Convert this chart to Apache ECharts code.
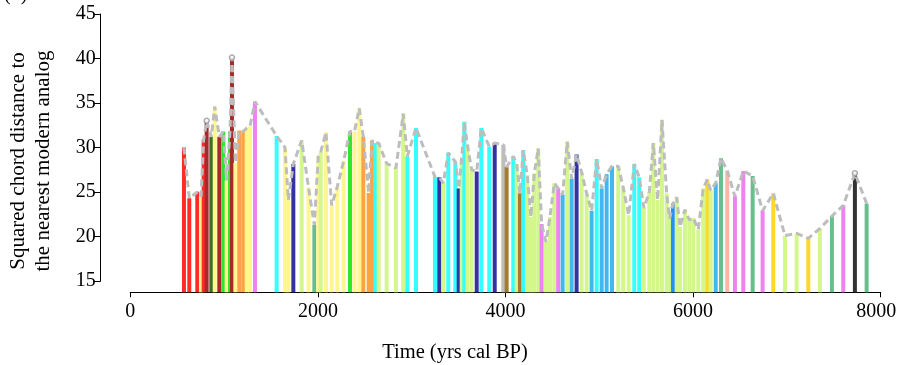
<!DOCTYPE html>
<html>
<head>
<meta charset="utf-8">
<script src="https://cdn.jsdelivr.net/npm/echarts@6/dist/echarts.min.js"></script>
<style>
html,body{margin:0;padding:0;background:#fff;}
#c{width:898px;height:365px;}
</style>
</head>
<body>
<div id="c"></div>
<script>
// ---- data ----
const years = [572,629,714,754,782,814,864,900,949,991,1027,1063,1084,1120,1162,1205,1241,1276,1329,1560,1649,1685,1738,1827,1900,1962,2004,2030,2086,2147,2207,2275,2342,2390,2441,2484,2541,2577,2612,2648,2733,2832,2910,2953,3046,3248,3294,3337,3390,3465,3501,3533,3561,3593,3639,3693,3742,3827,3885,3977,4012,4083,4119,4154,4189,4232,4271,4307,4349,4385,4431,4474,4520,4562,4609,4658,4705,4758,4812,4865,4918,4972,5025,5078,5135,5202,5255,5313,5373,5426,5476,5533,5576,5622,5668,5718,5750,5785,5825,5860,5913,5959,6002,6055,6108,6151,6187,6241,6297,6364,6446,6535,6635,6741,6855,6979,7104,7228,7352,7480,7601,7725,7850];
const scd = [30.0,24.3,25.0,24.5,30.9,33.0,31.2,34.6,31.2,31.8,26.3,31.8,40.1,28.3,31.9,31.8,32.2,32.4,35.15,31.3,30.0,24.1,28.15,30.8,25.5,21.3,29.0,29.5,31.7,23.5,25.6,28.5,31.8,31.8,34.4,31.2,24.9,30.8,30.5,30.5,28.2,27.7,33.8,29.0,32.2,26.7,26.65,26.0,29.4,28.4,25.4,28.8,32.9,30.3,27.5,27.3,32.2,30.1,30.5,30.3,27.8,29.0,28.15,24.85,29.7,26.9,22.2,27.1,29.9,21.4,19.4,22.2,26.0,25.4,24.7,30.65,26.5,29.2,27.2,24.85,22.9,28.7,25.4,27.0,27.9,27.9,25.5,22.4,28.15,26.65,23.2,25.0,30.5,24.1,33.1,24.85,22.0,23.7,24.4,21.1,23.0,21.85,22.1,20.8,25.4,26.4,25.2,26.0,28.8,27.4,24.5,27.35,26.8,22.9,24.85,20.1,20.35,19.8,20.9,22.3,23.5,27.1,23.7];
const groups = ['R','R','R','LY','R','BR','DO','LY','BR','G','LY','G','BR','LY','O','O','LY','LY','V','C','LY','LY','DB','LG','LY','SG','LY','LG','LY','LY','LY','LY','G','LY','LY','O','O','O','C','LG','LG','LG','LG','C','C','C','DB','LG','C','C','DB','LG','C','LG','LG','DB','C','C','DB','GR','BN','C','LG','BN','C','LG','LG','LG','LG','V','LG','LG','LG','V','SB','LG','SB','DB','LG','LG','SB','C','SB','SB','SB','LG','LG','LG','C','C','LG','LG','LG','LG','LG','LG','LG','DGB','LG','LG','LG','LG','LG','LG','LG','GD','LG','SB','SG','SA','V','V','SG','V','GD','LG','LG','GD','LG','SG','V','BK','SG'];
const markedIdx = [5, 12, 121];
const xTicks = [0, 2000, 4000, 6000, 8000];
const yTicks = [15, 20, 25, 30, 35, 40, 45];

// ---- styles ----
const palette = {
  R:'#ff2b2b', BR:'#a52a2a', DO:'#3e6d24', LY:'#fff68f', G:'#2ee62e', O:'#ffa245',
  V:'#ee82ee', C:'#33ffff', DB:'#3333a0', LG:'#d4f78c', SG:'#66c08c', GR:'#bdbdbd',
  BN:'#a77a2e', SB:'#3fb8ef', DGB:'#1e90ff', GD:'#ffd92a', SA:'#ffb4a8', BK:'#333333'
};
const FONT = '"Liberation Serif","DejaVu Serif",serif';
const Y_BOTTOM = 13.73;
const X_MAX = xTicks[xTicks.length-1];

const chart = echarts.init(document.getElementById('c'), null, {renderer:'canvas'});
const pairs = years.map((x, i) => [x, scd[i]]);

chart.setOption({
  animation: false,
  backgroundColor: '#fff',
  grid: [
    {left: 130.3, right: 17.3, top: 14, height: 278.3, containLabel: false, outerBoundsMode: 'none'},
    {left: 100.7, width: 10, top: 14, height: 267, containLabel: false, outerBoundsMode: 'none'}
  ],
  xAxis: [
    {gridIndex: 0, type: 'value', min: xTicks[0], max: X_MAX, interval: 2000,
     axisLine: {show: true, lineStyle: {color: '#000', width: 1}},
     axisTick: {show: true, length: 5, lineStyle: {color: '#000'}},
     axisLabel: {show: true, color: '#000', fontFamily: FONT, fontSize: 20, margin: 9,
                 formatter: v => v === X_MAX ? '{m|' + v + '}' : String(v),
                 rich: {m: {fontFamily: FONT, fontSize: 20, color: '#000', padding: [0, 9, 0, 0]}}},
     splitLine: {show: false}},
    {gridIndex: 1, type: 'value', min: 0, max: 1, show: false}
  ],
  yAxis: [
    {gridIndex: 0, type: 'value', min: Y_BOTTOM, max: 45, show: false, splitLine: {show: false}},
    {gridIndex: 1, type: 'value', min: yTicks[0], max: yTicks[yTicks.length-1], interval: 5,
     axisLine: {show: true, lineStyle: {color: '#000', width: 1}},
     axisTick: {show: true, length: 7, lineStyle: {color: '#000'}},
     axisLabel: {show: true, color: '#000', fontFamily: FONT, fontSize: 20, margin: 5,
                 formatter: v => String(v)},
     splitLine: {show: false}}
  ],
  series: [
    {type: 'bar', xAxisIndex: 0, yAxisIndex: 0, data: pairs, barWidth: 4, clip: true, z: 2,
     itemStyle: {color: p => palette[groups[p.dataIndex]]}},
    {type: 'line', xAxisIndex: 0, yAxisIndex: 0, data: pairs, symbol: 'none', z: 3,
     lineStyle: {color: '#bdbdbd', width: 3, type: [7, 4]}},
    {type: 'scatter', xAxisIndex: 0, yAxisIndex: 0, z: 4,
     data: markedIdx.map(i => [years[i], scd[i]]), symbol: 'circle', symbolSize: 5,
     itemStyle: {color: '#ffffff', borderColor: '#999999', borderWidth: 1.5}},
    {type: 'line', xAxisIndex: 1, yAxisIndex: 1, data: [], symbol: 'none'}
  ],
  graphic: [
    {type: 'text', x: 18, y: 161, rotation: Math.PI/2,
     style: {text: 'Squared chord distance to', font: '21px ' + FONT, fill: '#000', align: 'center', verticalAlign: 'middle'}},
    {type: 'text', x: 43, y: 161, rotation: Math.PI/2,
     style: {text: 'the nearest modern analog', font: '21px ' + FONT, fill: '#000', align: 'center', verticalAlign: 'middle'}},
    {type: 'text', x: 455, y: 353,
     style: {text: 'Time (yrs cal BP)', font: '20.5px ' + FONT, fill: '#000', align: 'center', verticalAlign: 'middle'}},
    {type: 'text', x: 4, y: -15,
     style: {text: '(b)', font: '20px ' + FONT, fill: '#000', align: 'left', verticalAlign: 'top'}}
  ]
});
</script>
</body>
</html>
